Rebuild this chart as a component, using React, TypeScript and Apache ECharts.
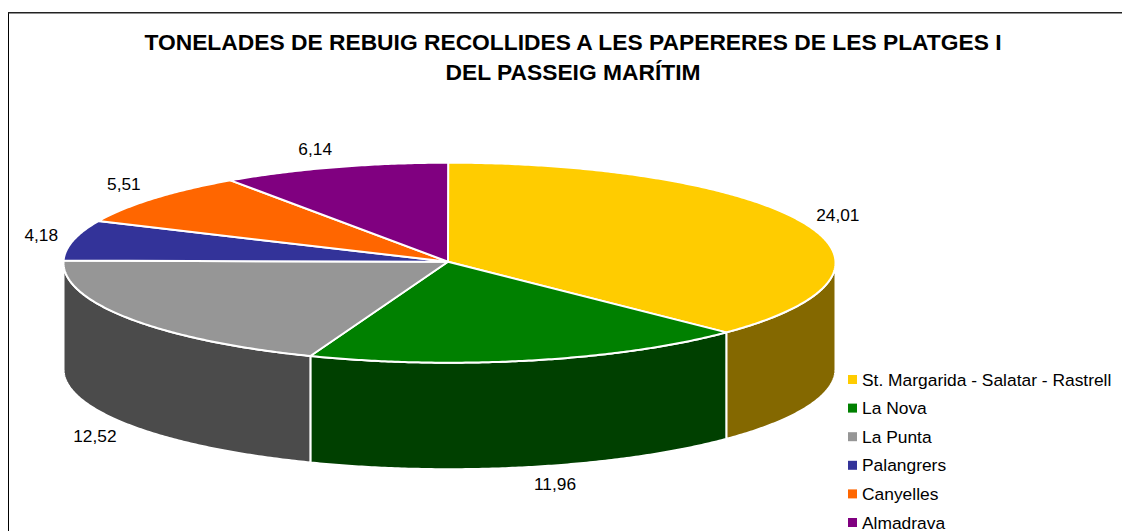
import React, { useEffect, useRef } from "react";
import * as echarts from "echarts";

const categories = ["St. Margarida - Salatar - Rastrell", "La Nova", "La Punta", "Palangrers", "Canyelles", "Almadrava"];
const values = [24.01, 11.96, 12.52, 4.18, 5.51, 6.14];
const valueLabels = ["24,01", "11,96", "12,52", "4,18", "5,51", "6,14"];
const topColors = ["#FFCC00", "#008000", "#969696", "#333399", "#FF6600", "#800080"];
const wallColors = ["#846800", "#004000", "#4B4B4B", "#1A1A4D", "#803300", "#400040"];
const labelOffsets = [[33, -9], [23, 123.5], [-34, 117.5], [-32, -5], [-30, -14], [-19, -18.5]];
const titleText = "TONELADES DE REBUIG RECOLLIDES A LES PAPERERES DE LES PLATGES I\nDEL PASSEIG MARÍTIM";

const CX = 449.5, CY = 262.7, RX = 386, RY = 100, DEPTH = 106.5, ROT = -0.2;
const HUB_X = 448, HUB_Y = 261.7;
const total = values.reduce((a, b) => a + b, 0);
const pt = (deg: number, dy = 0): number[] => {
  const r = (deg * Math.PI) / 180;
  return [CX + RX * Math.sin(r), CY - RY * Math.cos(r) + dy];
};
const arc = (a: number, b: number, dy = 0): number[][] => {
  const out: number[][] = [];
  const n = Math.max(2, Math.ceil(Math.abs(b - a) / 0.5));
  for (let i = 0; i <= n; i++) out.push(pt(a + ((b - a) * i) / n, dy));
  return out;
};

function renderSlice(params: any) {
  const i = params.seriesIndex;
  const start = (values.slice(0, i).reduce((a, b) => a + b, 0) / total) * 360 + ROT;
  const end = start + (values[i] / total) * 360;
  const mid = (start + end) / 2;
  const children: any[] = [];
  const ws = Math.max(start, 90), we = Math.min(end, 270);
  if (we > ws) {
    children.push({
      type: "polygon",
      z2: 1,
      shape: { points: [...arc(ws, we), ...arc(we, ws, DEPTH)] },
      style: { fill: wallColors[i], stroke: "#FFFFFF", lineWidth: 2, lineJoin: "round" },
    });
  }
  children.push({
    type: "polygon",
    z2: 2,
    shape: { points: [[HUB_X, HUB_Y], ...arc(start, end)] },
    style: { fill: topColors[i], stroke: "#FFFFFF", lineWidth: 2, lineJoin: "round" },
  });
  const a = pt(mid);
  children.push({
    type: "text",
    z2: 3,
    style: {
      x: a[0] + labelOffsets[i][0],
      y: a[1] + labelOffsets[i][1],
      text: valueLabels[i],
      fill: "#000000",
      font: '17.3px "Liberation Sans", Arial, sans-serif',
      textAlign: "center",
      textVerticalAlign: "middle",
    },
  });
  return { type: "group", children };
}

export default function App() {
  const ref = useRef<HTMLDivElement>(null);
  useEffect(() => {
    document.body.style.margin = "0";
    const chart = echarts.init(ref.current!, undefined, { renderer: "svg" });
    chart.setOption({
      animation: false,
      backgroundColor: "#FFFFFF",
      title: {
        text: titleText,
        left: 568,
        top: 22,
        textAlign: "center",
        textStyle: {
          fontFamily: '"Liberation Sans", Arial, sans-serif',
          fontSize: 22.8,
          fontWeight: "bold",
          color: "#000000",
          lineHeight: 30,
        },
      },
      legend: {
        orient: "vertical",
        left: 848,
        top: 371,
        height: 200,
        padding: 0,
        itemWidth: 9,
        itemHeight: 9,
        itemGap: 11.6,
        icon: "rect",
        data: categories,
        selectedMode: false,
        textStyle: {
          fontFamily: '"Liberation Sans", Arial, sans-serif',
          fontSize: 17.4,
          color: "#000000",
          lineHeight: 17,
        },
      },
      graphic: [
        { type: "line", shape: { x1: 8.5, y1: 12, x2: 8.5, y2: 531 }, style: { stroke: "#000000", lineWidth: 1 } },
        { type: "line", shape: { x1: 8, y1: 12.75, x2: 1122, y2: 12.75 }, style: { stroke: "#222222", lineWidth: 1.5 } },
      ],
      series: categories.map((name, i) => ({
        type: "custom",
        name,
        coordinateSystem: "none",
        silent: true,
        itemStyle: { color: topColors[i] },
        renderItem: renderSlice,
        data: [values[i]],
      })),
    });
    return () => chart.dispose();
  }, []);
  return <div ref={ref} style={{ width: 1122, height: 531 }} />;
}
